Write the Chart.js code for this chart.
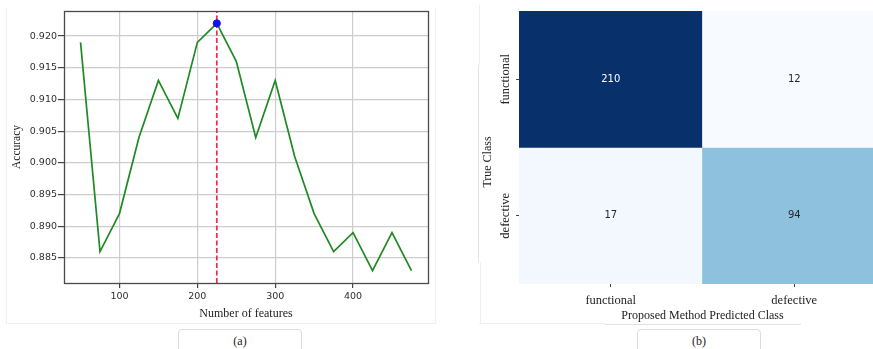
<!DOCTYPE html>
<html>
<head>
<meta charset="utf-8">
<title>Feature count vs accuracy and confusion matrix</title>
<script src="https://cdn.jsdelivr.net/npm/chart.js@4.4.1/dist/chart.umd.min.js"></script>
<style>
  html, body { margin: 0; padding: 0; background: #fff; }
  body { width: 873px; height: 349px; position: relative; overflow: hidden; }
  canvas { position: absolute; top: 0; }
  #accuracyChart { left: 0; }
  #confusionChart { left: 440px; }
  .rule { position: absolute; background: #efefef; }
  .rule.dark { background: #e2e2e2; }
  .cap {
    position: absolute; top: 329px; width: 124px; height: 26px;
    border: 1px solid #dcdcdc; border-radius: 4px; box-sizing: border-box;
    font-family: "Liberation Serif", serif; font-size: 12px; color: #222;
    text-align: center; line-height: 22px; background: #fff;
  }
</style>
</head>
<body>
<!-- panel frames -->
<div class="rule" style="left:6px;top:323px;width:430px;height:1px"></div>
<div class="rule" style="left:6px;top:8px;width:1px;height:315px"></div>
<div class="rule" style="left:435px;top:8px;width:1px;height:315px"></div>
<div class="rule" style="left:479px;top:5px;width:1px;height:60px"></div>
<div class="rule dark" style="left:478px;top:65px;width:1px;height:197px"></div>
<div class="rule" style="left:480px;top:262px;width:1px;height:61px"></div>
<div class="rule" style="left:479px;top:323px;width:126px;height:1px"></div>
<div class="rule dark" style="left:605px;top:324px;width:196px;height:1px"></div>

<canvas id="accuracyChart" width="440" height="349"></canvas>
<canvas id="confusionChart" width="446" height="349"></canvas>

<div class="cap" style="left:178px">(a)</div>
<div class="cap" style="left:637px">(b)</div>

<script>
// ---- (a) accuracy as a function of the number of selected features ----
const featureCounts = [50, 75, 100, 125, 150, 175, 200, 225, 250, 275, 300, 325, 350, 375, 400, 425, 450, 475];
const accuracy = [0.919, 0.886, 0.892, 0.904, 0.913, 0.907, 0.919, 0.922, 0.916, 0.904, 0.913, 0.901, 0.892, 0.886, 0.889, 0.883, 0.889, 0.883];
const accuracyTicks = [0.885, 0.890, 0.895, 0.900, 0.905, 0.910, 0.915, 0.920];
const featureTicks = [100, 200, 300, 400];
const featureLimits = [28.75, 496.25];
const accuracyLimits = [0.88105, 0.92395];

// ---- (b) confusion matrix (rows: true class, columns: predicted class) ----
const trueClasses = ['functional', 'defective'];
const predictedClasses = ['functional', 'defective'];
const confusion = [
  [210, 12],
  [17, 94]
];

const bestIndex = accuracy.indexOf(Math.max(...accuracy));
const bestFeatures = featureCounts[bestIndex];

const SANS = '"DejaVu Sans", sans-serif';
const SERIF = '"Liberation Serif", "Times New Roman", serif';

// dark frame on all four sides of the plotting area
const axesFrame = {
  id: 'axesFrame',
  afterDraw(chart) {
    const { ctx, chartArea: a } = chart;
    ctx.save();
    ctx.strokeStyle = '#4a4a4a';
    ctx.lineWidth = 1.3;
    ctx.strokeRect(Math.round(a.left) + 0.5, Math.round(a.top) + 0.5,
      Math.round(a.right - a.left), Math.round(a.bottom - a.top));
    ctx.restore();
  }
};

new Chart(document.getElementById('accuracyChart'), {
  type: 'line',
  data: {
    datasets: [
      {
        label: 'Accuracy',
        data: featureCounts.map((f, i) => ({ x: f, y: accuracy[i] })),
        borderColor: '#1f8a24',
        borderWidth: 1.7,
        pointRadius: 0,
        tension: 0,
        order: 3
      },
      {
        label: 'Best feature count',
        data: [{ x: bestFeatures, y: accuracyLimits[0] }, { x: bestFeatures, y: accuracyLimits[1] }],
        borderColor: '#ec2a4c',
        borderWidth: 1.7,
        borderDash: [5, 2.5],
        pointRadius: 0,
        order: 2
      },
      {
        label: 'Best accuracy',
        data: [{ x: bestFeatures, y: accuracy[bestIndex] }],
        showLine: false,
        pointRadius: 3.6,
        pointBackgroundColor: '#1010f5',
        pointBorderColor: '#1010f5',
        order: 1
      }
    ]
  },
  options: {
    responsive: false,
    animation: false,
    events: [],
    layout: { padding: { top: 11, right: 12, left: 0, bottom: 0 } },
    plugins: { legend: { display: false }, tooltip: { enabled: false } },
    scales: {
      x: {
        type: 'linear',
        min: featureLimits[0],
        max: featureLimits[1],
        afterBuildTicks: s => { s.ticks = featureTicks.map(v => ({ value: v })); },
        afterFit: s => { s.height = 66; },
        border: { display: false },
        grid: { color: '#cdcdcd', lineWidth: 1.2, tickColor: '#444', tickLength: 5 },
        ticks: { color: '#2e2e2e', font: { family: SANS, size: 9.5 }, padding: 3, maxRotation: 0 },
        title: {
          display: true, text: 'Number of features', color: '#222',
          font: { family: SERIF, size: 12 }, padding: { top: 0, bottom: 28 }
        }
      },
      y: {
        type: 'linear',
        min: accuracyLimits[0],
        max: accuracyLimits[1],
        afterBuildTicks: s => { s.ticks = accuracyTicks.map(v => ({ value: v })); },
        afterFit: s => { s.width = 64; },
        border: { display: false },
        grid: { color: '#cdcdcd', lineWidth: 1.2, tickColor: '#444', tickLength: 6 },
        ticks: {
          color: '#2e2e2e', font: { family: SANS, size: 9.5 }, padding: 1,
          callback: v => Number(v).toFixed(3)
        },
        title: {
          display: true, text: 'Accuracy', color: '#222',
          font: { family: SERIF, size: 11.5 }, padding: { top: 10, bottom: 0 }
        }
      }
    }
  },
  plugins: [axesFrame]
});

// sequential blue palette for the heatmap cells
const BLUES = ['#f7fbff', '#deebf7', '#c6dbef', '#9ecae1', '#6baed6', '#4292c6', '#2171b5', '#08519c', '#08306b'];
const flat = confusion.flat();
const vMin = Math.min(...flat), vMax = Math.max(...flat);
function hexRgb(h) { return [1, 3, 5].map(k => parseInt(h.slice(k, k + 2), 16)); }
function bluesRgb(v) {
  const t = Math.max(0, Math.min(1, (v - vMin) / (vMax - vMin))) * (BLUES.length - 1);
  const i = Math.min(Math.floor(t), BLUES.length - 2), f = t - i;
  const a = hexRgb(BLUES[i]), b = hexRgb(BLUES[i + 1]);
  return a.map((c, k) => Math.round(c + (b[k] - c) * f));
}
function bluesColor(v) { const c = bluesRgb(v); return `rgb(${c[0]},${c[1]},${c[2]})`; }
function luminance(v) {
  const lin = bluesRgb(v).map(c => { c /= 255; return c <= 0.03928 ? c / 12.92 : Math.pow((c + 0.055) / 1.055, 2.4); });
  return 0.2126 * lin[0] + 0.7152 * lin[1] + 0.0722 * lin[2];
}

// cell counts, rotated row labels and the y-axis caption
const heatmapText = {
  id: 'heatmapText',
  afterDatasetsDraw(chart) {
    const ctx = chart.ctx;
    ctx.save();
    ctx.font = `10px ${SANS}`;
    ctx.textAlign = 'center';
    ctx.textBaseline = 'middle';
    chart.data.datasets.forEach((ds, i) => {
      chart.getDatasetMeta(i).data.forEach((bar, j) => {
        const v = confusion[i][j];
        const c = bar.getCenterPoint();
        ctx.fillStyle = luminance(v) < 0.408 ? '#ffffff' : '#262626';
        ctx.fillText(String(v), c.x, c.y);
      });
    });
    ctx.restore();
  },
  afterDraw(chart) {
    const ctx = chart.ctx;
    const ys = chart.scales.y;
    ctx.save();
    ctx.fillStyle = '#222';
    ctx.textAlign = 'center';
    ctx.textBaseline = 'middle';
    ctx.font = `12.5px ${SERIF}`;
    trueClasses.forEach((name, i) => {
      ctx.save();
      ctx.translate(66, ys.getPixelForValue(i + 0.5));
      ctx.rotate(-Math.PI / 2);
      ctx.fillText(name, 0, 0);
      ctx.restore();
    });
    ctx.font = `12px ${SERIF}`;
    ctx.translate(48, 162);
    ctx.rotate(-Math.PI / 2);
    ctx.fillText('True Class', 0, 0);
    ctx.restore();
  }
};

new Chart(document.getElementById('confusionChart'), {
  type: 'bar',
  data: {
    labels: predictedClasses,
    datasets: trueClasses.map((name, i) => ({
      label: name,
      data: predictedClasses.map(() => [i, i + 1]),
      backgroundColor: confusion[i].map(bluesColor),
      borderWidth: 0,
      categoryPercentage: 1,
      barPercentage: 1,
      grouped: false
    }))
  },
  options: {
    responsive: false,
    animation: false,
    events: [],
    layout: { padding: { top: 11, right: 0, left: 0, bottom: 0 } },
    plugins: { legend: { display: false }, tooltip: { enabled: false } },
    scales: {
      x: {
        type: 'category',
        afterFit: s => { s.height = 65; },
        border: { display: false },
        grid: { offset: false, drawOnChartArea: false, tickColor: '#444', tickLength: 3 },
        ticks: { color: '#222', font: { family: SERIF, size: 12.5 }, padding: 6, maxRotation: 0 },
        title: {
          display: true, text: 'Proposed Method Predicted Class', color: '#222',
          font: { family: SERIF, size: 12 }, padding: { top: 0, bottom: 26 }
        }
      },
      y: {
        type: 'linear',
        min: 0,
        max: trueClasses.length,
        reverse: true,
        afterBuildTicks: s => { s.ticks = trueClasses.map((_, i) => ({ value: i + 0.5 })); },
        afterFit: s => { s.width = 79; },
        border: { display: false },
        grid: { drawOnChartArea: false, tickColor: '#444', tickLength: 3 },
        ticks: { display: false }
      }
    }
  },
  plugins: [heatmapText]
});
</script>
</body>
</html>
